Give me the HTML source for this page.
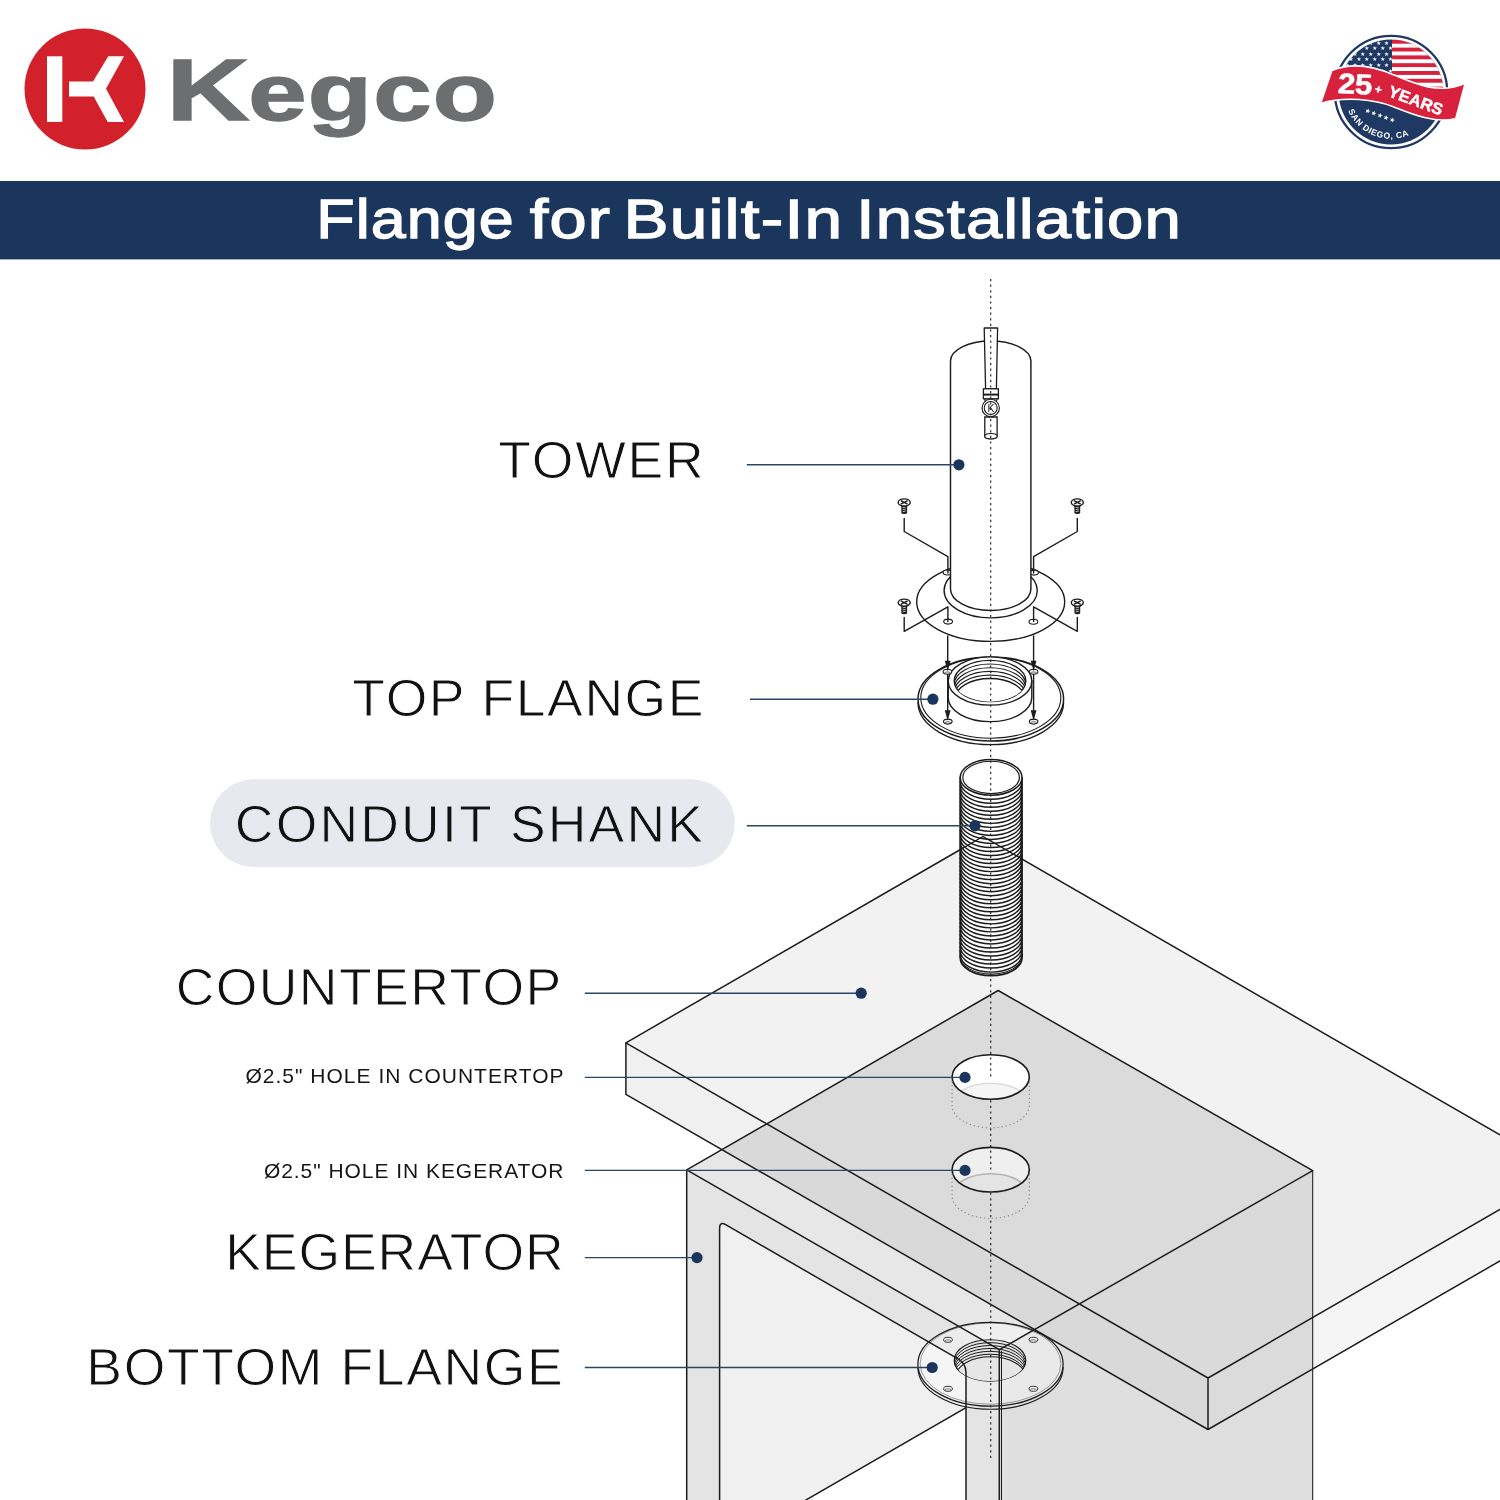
<!DOCTYPE html>
<html lang="en">
<head>
<meta charset="utf-8">
<title>Kegco - Flange for Built-In Installation</title>
<style>
html,body{margin:0;padding:0;background:#fff;}
body{width:1500px;height:1500px;overflow:hidden;font-family:"Liberation Sans",sans-serif;}
svg{display:block;will-change:transform;}
text{font-family:"Liberation Sans",sans-serif;}
.ln{fill:none;stroke:#1c1c1c;stroke-width:1.5;stroke-linejoin:round;stroke-linecap:round;}
.th{fill:none;stroke:#1c1c1c;stroke-width:1.1;stroke-linejoin:round;stroke-linecap:round;}
.ld{fill:none;stroke:#2b4566;stroke-width:1.4;}
.dot{fill:#1b365d;}
.lbl{fill:#111;stroke:#fff;stroke-width:0.9px;}
.sm{fill:#151515;}
</style>
</head>
<body>
<svg width="1500" height="1500" viewBox="0 0 1500 1500">
<rect x="0" y="0" width="1500" height="1500" fill="#fff"/>
<!-- logo -->
<g id="logo">
<circle cx="85" cy="89" r="60.5" fill="#d2212b"/>
<rect x="47" y="56.3" width="15.3" height="65.6" fill="#fff"/>
<path d="M69 81.4H93L108.3 56.3H124L106 88.8L124 121.9H107.7L93.7 96.6H69Z" fill="#fff"/>
<text transform="translate(166.4 120.4) scale(1.33 1)" font-weight="700" fill="#6d6e70" stroke="#6d6e70" stroke-width="1.3" stroke-linejoin="miter"><tspan font-size="86.5">K</tspan><tspan font-size="79" dx="-1.0" letter-spacing="0.9">egco</tspan></text>
</g>
<!-- title band -->
<rect x="0" y="181" width="1500" height="78.4" fill="#1b365d"/>
<g id="title">
<text transform="translate(316.22 237.7) scale(1.1251 1)" font-size="55.8" fill="#fff" stroke="#fff" stroke-width="1.35" letter-spacing="1.0">Flange</text>
<text transform="translate(529.73 237.7) scale(1.1949 1)" font-size="55.8" fill="#fff" stroke="#fff" stroke-width="1.35" letter-spacing="1.0">for</text>
<text transform="translate(623.44 237.7) scale(1.2098 1)" font-size="55.8" fill="#fff" stroke="#fff" stroke-width="1.35" letter-spacing="1.0">Built-In</text>
<text transform="translate(856.36 237.7) scale(1.1679 1)" font-size="55.8" fill="#fff" stroke="#fff" stroke-width="1.35" letter-spacing="1.0">Installation</text>
</g>
<!-- badge -->
<g id="badge">
<circle cx="1391.0" cy="92.0" r="56.2" fill="#fff" stroke="#1f3864" stroke-width="2.3"/>
<clipPath id="cpBadge"><circle cx="1391.0" cy="92.0" r="52.4"/></clipPath>
<g clip-path="url(#cpBadge)"><rect x="1335" y="36" width="112" height="112" fill="#1f3864"/><rect x="1392" y="36" width="60" height="70" fill="#fff"/><rect x="1392" y="39.8" width="60" height="3.9" fill="#d8213c"/><rect x="1392" y="47.6" width="60" height="3.9" fill="#d8213c"/><rect x="1392" y="55.4" width="60" height="3.9" fill="#d8213c"/><rect x="1392" y="63.2" width="60" height="3.9" fill="#d8213c"/><rect x="1392" y="71.0" width="60" height="3.9" fill="#d8213c"/><rect x="1392" y="78.8" width="60" height="3.9" fill="#d8213c"/><rect x="1392" y="86.6" width="60" height="3.9" fill="#d8213c"/><rect x="1392" y="94.4" width="60" height="3.9" fill="#d8213c"/><text x="1344.5" y="44.5" font-size="5.6" letter-spacing="2.9" fill="#fff" style="font-family:'DejaVu Sans','Liberation Sans',sans-serif">★★★★★★</text><text x="1348.5" y="50.1" font-size="5.6" letter-spacing="2.9" fill="#fff" style="font-family:'DejaVu Sans','Liberation Sans',sans-serif">★★★★★★</text><text x="1344.5" y="55.7" font-size="5.6" letter-spacing="2.9" fill="#fff" style="font-family:'DejaVu Sans','Liberation Sans',sans-serif">★★★★★★</text><text x="1348.5" y="61.3" font-size="5.6" letter-spacing="2.9" fill="#fff" style="font-family:'DejaVu Sans','Liberation Sans',sans-serif">★★★★★★</text><text x="1344.5" y="66.9" font-size="5.6" letter-spacing="2.9" fill="#fff" style="font-family:'DejaVu Sans','Liberation Sans',sans-serif">★★★★★★</text><text x="1348.5" y="72.5" font-size="5.6" letter-spacing="2.9" fill="#fff" style="font-family:'DejaVu Sans','Liberation Sans',sans-serif">★★★★★★</text></g>
<path id="sdArc" d="M1347.61 109.53A46.8 46.8 0 0 0 1426.85 122.08" fill="none"/>
<text font-size="8.6" font-weight="700" fill="#fff" letter-spacing="0.55"><textPath href="#sdArc" startOffset="1.5">SAN DIEGO, CA</textPath></text>
<text transform="translate(1364.2 112.0) rotate(20)" font-size="6.6" letter-spacing="0.6" fill="#fff" style="font-family:'DejaVu Sans','Liberation Sans',sans-serif">★★★★★</text>
<path d="M1331.8 70.5C1350 63 1372 65.5 1393.3 74.7S1440 95 1465.2 83.2L1455.8 118.4C1436 124 1412 114 1393.3 106.7S1345 96 1320.6 103.4Z" fill="#d8213c" stroke="#fff" stroke-width="1.6" stroke-linejoin="round"/>
<text transform="translate(1337.4 92.9) rotate(3) scale(1.1 1)" font-size="28.6" font-weight="700" fill="#fff" stroke="#fff" stroke-width="0.5" letter-spacing="-0.4">25</text>
<text transform="translate(1374.2 92.6) rotate(12)" font-size="11.5" font-weight="700" fill="#fff" stroke="#fff" stroke-width="0.5">+</text>
<text transform="translate(1387.2 96.0) rotate(20)" font-size="16.4" font-weight="700" fill="#fff" stroke="#fff" stroke-width="0.45" letter-spacing="0.1">YEARS</text>
</g>
<!-- countertop -->
<g id="countertop">
<polygon points="983.00,836.50 625.90,1042.80 1208.00,1378.00 1510.00,1203.64 1510.00,1140.76" fill="#f2f2f2"/>
<polygon points="625.90,1042.80 1208.00,1378.00 1208.00,1429.50 625.90,1094.30" fill="#f0f0f0"/>
<polygon points="1208.00,1378.00 1510.00,1203.64 1510.00,1255.14 1208.00,1429.50" fill="#f5f5f5"/>
</g>
<!-- kegerator -->
<g id="kegerator">
<polygon points="998.20,990.50 686.70,1169.90 999.30,1349.70 1312.70,1170.60" fill="#000" fill-opacity="0.095"/>
<polygon points="999.30,1349.70 1312.70,1170.60 1312.70,1510.00 999.30,1510.00" fill="#cbcbcb" fill-opacity="0.615"/>
<path d="M686.7 1169.9 L999.3 1349.7 V1510 H686.7 Z M719.6 1510 V1228.22 Q719.6 1221.22 725.66 1224.72 L958.00 1358.86 Q966.0 1363.48 966.0 1372.48 V1510 Z" fill="#000" fill-opacity="0.105" fill-rule="evenodd"/>
<clipPath id="cpInner"><path d="M719.6 1510 V1228.22 Q719.6 1221.22 725.66 1224.72 L958.00 1358.86 Q966.0 1363.48 966.0 1372.48 V1510 Z"/></clipPath>
<polygon clip-path="url(#cpInner)" points="714.60,1100.00 971.00,1100.00 971.00,1404.71 714.60,1552.75" fill="#000" fill-opacity="0.06"/>
</g>
<path class="ln" d="M1510 1140.76L983.0 836.5L625.9 1042.8L1208.0 1378.0L1510 1203.64M625.9 1042.8V1094.3L1208.0 1429.50L1510 1255.14M1208.0 1378.0V1429.5"/>
<!-- holes -->
<clipPath id="cpH1"><ellipse cx="990.7" cy="1077.0" rx="38.6" ry="22.29"/></clipPath>
<ellipse cx="990.70" cy="1077.00" rx="38.60" ry="22.29" fill="#ffffff"/>
<g clip-path="url(#cpH1)"><ellipse cx="990.70" cy="1105.50" rx="38.60" ry="22.29" fill="#f5f5f5" stroke="#dcdcdc" stroke-width="1.6"/></g>
<ellipse cx="990.70" cy="1077.00" rx="38.60" ry="22.29" fill="none" stroke="#1c1c1c" stroke-width="1.6"/>
<path d="M952.1 1081.0V1105.5A38.6 22.29 0 0 0 1029.3 1105.5V1081.0" fill="none" stroke="#8a8a8a" stroke-width="1.1" stroke-dasharray="1.3 2.7"/>
<clipPath id="cpH2"><ellipse cx="990.7" cy="1169.7" rx="38.6" ry="22.29"/></clipPath>
<ellipse cx="990.70" cy="1169.70" rx="38.60" ry="22.29" fill="#efefef"/>
<g clip-path="url(#cpH2)"><ellipse cx="990.70" cy="1196.00" rx="38.60" ry="22.29" fill="#e4e4e4" stroke="#b4b4b4" stroke-width="1.6"/></g>
<ellipse cx="990.70" cy="1169.70" rx="38.60" ry="22.29" fill="none" stroke="#1c1c1c" stroke-width="1.6"/>
<path d="M952.1 1173.7V1196.0A38.6 22.29 0 0 0 1029.3 1196.0V1173.7" fill="none" stroke="#8a8a8a" stroke-width="1.1" stroke-dasharray="1.3 2.7"/>
<!-- bottom flange -->
<g id="bottomflange">
<path class="th" d="M917.90 1367.40A72.60 41.92 0 0 0 1063.10 1367.40"/>
<ellipse cx="990.50" cy="1364.20" rx="72.60" ry="41.92" fill="#fff" fill-opacity="0.32" stroke="#1c1c1c" stroke-width="1.25"/>
<ellipse cx="990.50" cy="1363.60" rx="70.40" ry="40.65" fill="none" stroke="#1c1c1c" stroke-width="0.6" stroke-opacity="0.7"/>
<clipPath id="cpBF"><ellipse cx="990.0" cy="1360.4" rx="35.8" ry="20.67"/></clipPath>
<ellipse cx="990.00" cy="1360.40" rx="35.80" ry="20.67" fill="#000" fill-opacity="0.03" stroke="#1c1c1c" stroke-width="1.2"/>
<g clip-path="url(#cpBF)" class="th" style="stroke-width:1"><ellipse cx="990.00" cy="1363.30" rx="35.80" ry="20.67" fill="none"/><ellipse cx="990.00" cy="1366.20" rx="35.80" ry="20.67" fill="none"/><ellipse cx="990.00" cy="1369.10" rx="35.80" ry="20.67" fill="none"/><ellipse cx="990.00" cy="1372.00" rx="35.80" ry="20.67" fill="none"/><ellipse cx="990.00" cy="1374.90" rx="35.80" ry="20.67" fill="none"/></g>
<g clip-path="url(#cpBF)"><ellipse cx="990.50" cy="1376.90" rx="34.80" ry="20.09" fill="#e6e6e6" stroke="#1c1c1c" stroke-width="1.1"/></g>
<ellipse cx="948.00" cy="1339.80" rx="4.40" ry="2.50" fill="#f4f4f4" stroke="#1c1c1c" stroke-width="0.9"/>
<path d="M944.8 1340.8A3.6 1.8 0 0 1 951.2 1340.8" fill="none" stroke="#1c1c1c" stroke-width="0.6"/>
<ellipse cx="1033.40" cy="1339.80" rx="4.40" ry="2.50" fill="#f4f4f4" stroke="#1c1c1c" stroke-width="0.9"/>
<path d="M1030.2 1340.8A3.6 1.8 0 0 1 1036.6000000000001 1340.8" fill="none" stroke="#1c1c1c" stroke-width="0.6"/>
<ellipse cx="948.00" cy="1388.80" rx="4.40" ry="2.50" fill="#f4f4f4" stroke="#1c1c1c" stroke-width="0.9"/>
<path d="M944.8 1389.8A3.6 1.8 0 0 1 951.2 1389.8" fill="none" stroke="#1c1c1c" stroke-width="0.6"/>
<ellipse cx="1033.40" cy="1388.80" rx="4.40" ry="2.50" fill="#f4f4f4" stroke="#1c1c1c" stroke-width="0.9"/>
<path d="M1030.2 1389.8A3.6 1.8 0 0 1 1036.6000000000001 1389.8" fill="none" stroke="#1c1c1c" stroke-width="0.6"/>
</g>
<g id="kegerator-lines">
<path class="ln" d="M998.2 990.5L686.7 1169.9L999.3 1349.7L1312.7 1170.6Z M686.7 1169.9V1510 M999.3 1349.7V1510"/>
<path class="ln" d="M1312.7 1170.6V1510" style="stroke-width:1.05"/>
<path class="ln" d="M719.6 1510 V1228.22 Q719.6 1221.22 725.66 1224.72 L958.00 1358.86 Q966.0 1363.48 966.0 1372.48 V1510 Z"/>
<path class="ln" d="M1001.5 1351.2V1510" style="stroke-width:1"/>
<path class="ln" d="M966.0 1407.60L719.6 1549.86" clip-path="url(#cpInner)"/>
</g>
<!-- conduit shank -->
<g id="shank">
<path d="M960.2 777.4V957.86A30.90 17.84 0 0 0 1022.0 957.86V777.4Z" fill="#fff" fill-opacity="0.85"/>
<path class="th" style="stroke-width:1.45" d="M960.20 781.40A30.90 17.84 0 0 0 1022.00 781.40M960.20 785.42A30.90 17.84 0 0 0 1022.00 785.42M960.20 789.44A30.90 17.84 0 0 0 1022.00 789.44M960.20 793.46A30.90 17.84 0 0 0 1022.00 793.46M960.20 797.48A30.90 17.84 0 0 0 1022.00 797.48M960.20 801.50A30.90 17.84 0 0 0 1022.00 801.50M960.20 805.52A30.90 17.84 0 0 0 1022.00 805.52M960.20 809.54A30.90 17.84 0 0 0 1022.00 809.54M960.20 813.56A30.90 17.84 0 0 0 1022.00 813.56M960.20 817.58A30.90 17.84 0 0 0 1022.00 817.58M960.20 821.60A30.90 17.84 0 0 0 1022.00 821.60M960.20 825.62A30.90 17.84 0 0 0 1022.00 825.62M960.20 829.64A30.90 17.84 0 0 0 1022.00 829.64M960.20 833.66A30.90 17.84 0 0 0 1022.00 833.66M960.20 837.68A30.90 17.84 0 0 0 1022.00 837.68M960.20 841.70A30.90 17.84 0 0 0 1022.00 841.70M960.20 845.72A30.90 17.84 0 0 0 1022.00 845.72M960.20 849.74A30.90 17.84 0 0 0 1022.00 849.74M960.20 853.76A30.90 17.84 0 0 0 1022.00 853.76M960.20 857.78A30.90 17.84 0 0 0 1022.00 857.78M960.20 861.80A30.90 17.84 0 0 0 1022.00 861.80M960.20 865.82A30.90 17.84 0 0 0 1022.00 865.82M960.20 869.84A30.90 17.84 0 0 0 1022.00 869.84M960.20 873.86A30.90 17.84 0 0 0 1022.00 873.86M960.20 877.88A30.90 17.84 0 0 0 1022.00 877.88M960.20 881.90A30.90 17.84 0 0 0 1022.00 881.90M960.20 885.92A30.90 17.84 0 0 0 1022.00 885.92M960.20 889.94A30.90 17.84 0 0 0 1022.00 889.94M960.20 893.96A30.90 17.84 0 0 0 1022.00 893.96M960.20 897.98A30.90 17.84 0 0 0 1022.00 897.98M960.20 902.00A30.90 17.84 0 0 0 1022.00 902.00M960.20 906.02A30.90 17.84 0 0 0 1022.00 906.02M960.20 910.04A30.90 17.84 0 0 0 1022.00 910.04M960.20 914.06A30.90 17.84 0 0 0 1022.00 914.06M960.20 918.08A30.90 17.84 0 0 0 1022.00 918.08M960.20 922.10A30.90 17.84 0 0 0 1022.00 922.10M960.20 926.12A30.90 17.84 0 0 0 1022.00 926.12M960.20 930.14A30.90 17.84 0 0 0 1022.00 930.14M960.20 934.16A30.90 17.84 0 0 0 1022.00 934.16M960.20 938.18A30.90 17.84 0 0 0 1022.00 938.18M960.20 942.20A30.90 17.84 0 0 0 1022.00 942.20M960.20 946.22A30.90 17.84 0 0 0 1022.00 946.22M960.20 950.24A30.90 17.84 0 0 0 1022.00 950.24M960.20 954.26A30.90 17.84 0 0 0 1022.00 954.26"/>
<path class="ln" style="stroke-width:1.7" d="M960.2 777.4V957.86A30.90 17.84 0 0 0 1022.0 957.86V777.4"/>
<path class="th" d="M960.20 956.26A30.90 17.84 0 0 0 1022.00 956.26"/>
<ellipse cx="991.10" cy="777.40" rx="30.90" ry="17.84" fill="#fff" stroke="#1c1c1c" stroke-width="1.5"/>
<ellipse cx="991.10" cy="777.40" rx="28.30" ry="16.14" fill="#fff" stroke="#1c1c1c" stroke-width="1.2"/>
</g>
<path class="ln" d="M959.7 849.95L983.0 836.5L1022.5 859.31" style="stroke-width:1.3"/>
<!-- top flange -->
<g id="topflange">
<path class="ln" d="M918.00 702.60A72.80 42.03 0 0 0 1063.60 702.60" style="stroke-width:1.3"/>
<ellipse cx="990.80" cy="699.00" rx="72.80" ry="42.03" fill="#fff" stroke="#1c1c1c" stroke-width="1.5"/>
<ellipse cx="990.80" cy="697.80" rx="70.00" ry="40.41" fill="none" stroke="#1c1c1c" stroke-width="1.1"/>
<path d="M948.2 681.0V697.5A41.8 24.13 0 0 0 1031.8 697.5V681.0Z" fill="#fff" stroke="#1c1c1c" stroke-width="1.4"/>
<ellipse cx="990.00" cy="681.00" rx="41.80" ry="24.13" fill="#fff" stroke="#1c1c1c" stroke-width="1.4"/>
<clipPath id="cpTF"><ellipse cx="990.0" cy="681.0" rx="35.8" ry="20.67"/></clipPath>
<ellipse cx="990.00" cy="681.00" rx="35.80" ry="20.67" fill="#fff" stroke="#1c1c1c" stroke-width="1.4"/>
<g clip-path="url(#cpTF)" class="th" style="stroke-width:1.15"><ellipse cx="990.00" cy="684.70" rx="35.80" ry="20.67" fill="none"/><ellipse cx="990.00" cy="688.40" rx="35.80" ry="20.67" fill="none"/><ellipse cx="990.00" cy="692.10" rx="35.80" ry="20.67" fill="none"/><ellipse cx="990.00" cy="695.80" rx="35.80" ry="20.67" fill="none"/><ellipse cx="990.00" cy="698.60" rx="34.80" ry="20.09" fill="#fff" stroke-width="1.4"/></g>
<ellipse cx="947.40" cy="671.80" rx="4.30" ry="2.50" fill="#fff" stroke="#1c1c1c" stroke-width="1.1"/>
<path d="M944.4 672.9A3.4 1.8 0 0 1 950.4 672.9" fill="none" stroke="#1c1c1c" stroke-width="0.7"/>
<ellipse cx="1033.60" cy="671.80" rx="4.30" ry="2.50" fill="#fff" stroke="#1c1c1c" stroke-width="1.1"/>
<path d="M1030.6 672.9A3.4 1.8 0 0 1 1036.6 672.9" fill="none" stroke="#1c1c1c" stroke-width="0.7"/>
<ellipse cx="947.80" cy="721.60" rx="4.30" ry="2.50" fill="#fff" stroke="#1c1c1c" stroke-width="1.1"/>
<path d="M944.8 722.7A3.4 1.8 0 0 1 950.8 722.7" fill="none" stroke="#1c1c1c" stroke-width="0.7"/>
<ellipse cx="1033.60" cy="721.60" rx="4.30" ry="2.50" fill="#fff" stroke="#1c1c1c" stroke-width="1.1"/>
<path d="M1030.6 722.7A3.4 1.8 0 0 1 1036.6 722.7" fill="none" stroke="#1c1c1c" stroke-width="0.7"/>
</g>
<!-- tower -->
<g id="tower">
<ellipse cx="990.70" cy="601.80" rx="74.00" ry="39.60" fill="#fff" stroke="#1c1c1c" stroke-width="1.4"/>
<ellipse cx="990.70" cy="590.60" rx="46.60" ry="27.30" fill="#fff" stroke="#1c1c1c" stroke-width="1.4"/>
<ellipse cx="947.50" cy="572.50" rx="4.40" ry="2.50" fill="#fff" stroke="#1c1c1c" stroke-width="1.1"/>
<ellipse cx="1034.00" cy="572.60" rx="4.40" ry="2.50" fill="#fff" stroke="#1c1c1c" stroke-width="1.1"/>
<ellipse cx="948.10" cy="621.60" rx="4.40" ry="2.50" fill="#fff" stroke="#1c1c1c" stroke-width="1.1"/>
<ellipse cx="1033.40" cy="621.80" rx="4.40" ry="2.50" fill="#fff" stroke="#1c1c1c" stroke-width="1.1"/>
<path d="M950.5 589.0V361A40.20 20 0 0 1 1030.9 361V589.0A40.20 21.5 0 0 1 950.5 589.0Z" fill="#fff" stroke="#1c1c1c" stroke-width="1.45" stroke-linejoin="round"/>
<path d="M984.2 328H997.6L996.4 388.8H985.6Z" fill="#fff" stroke="#1c1c1c" stroke-width="1.3" stroke-linejoin="round"/>
<path d="M984.8 417V436.2A6.2 2.7 0 0 0 997.1 436.2V417Z" fill="#fff" stroke="#1c1c1c" stroke-width="1.3"/>
<ellipse cx="990.95" cy="436.20" rx="6.15" ry="2.70" fill="#fff" stroke="#1c1c1c" stroke-width="1.2"/>
<path d="M984.6 398.8L985.4 402H996.2L997 398.8Z" fill="#fff" stroke="#1c1c1c" stroke-width="1.1"/>
<rect x="983.4" y="388.8" width="15" height="10" fill="#fff" stroke="#1c1c1c" stroke-width="1.3"/>
<path d="M983.4 394.6H998.4" stroke="#1c1c1c" stroke-width="2" fill="none"/>
<circle cx="990.7" cy="408" r="8.7" fill="#fff" stroke="#1c1c1c" stroke-width="1.1"/>
<circle cx="990.7" cy="408" r="6.5" fill="#fff" stroke="#1c1c1c" stroke-width="1.1"/>
<text transform="translate(990.9 411.7) scale(1.04 1)" font-size="10" text-anchor="middle" fill="#1c1c1c" font-weight="400">K</text>
</g>
<!-- screws -->
<g transform="translate(904.2 502.4)"><path d="M-2.9 3.2V10.4A2.9 1.3 0 0 0 2.9 10.4V3.2Z" fill="#1c1c1c"/><path d="M-1.6 5.3L1.6 4.6M-1.6 7.3L1.6 6.6M-1.6 9.3L1.6 8.6" stroke="#fff" stroke-width="0.7" fill="none"/><path d="M-5.8 0.2L-2.9 3.6H2.9L5.8 0.2Z" fill="#fff" stroke="#1c1c1c" stroke-width="1.1" stroke-linejoin="round"/><ellipse cx="0" cy="0" rx="6" ry="3.5" fill="#fff" stroke="#1c1c1c" stroke-width="1.4"/><path d="M-3.4 -1.7L3.4 1.7M3.4 -1.7L-3.4 1.7" stroke="#1c1c1c" stroke-width="1.5" fill="none"/></g>
<g transform="translate(1077.3 502.4)"><path d="M-2.9 3.2V10.4A2.9 1.3 0 0 0 2.9 10.4V3.2Z" fill="#1c1c1c"/><path d="M-1.6 5.3L1.6 4.6M-1.6 7.3L1.6 6.6M-1.6 9.3L1.6 8.6" stroke="#fff" stroke-width="0.7" fill="none"/><path d="M-5.8 0.2L-2.9 3.6H2.9L5.8 0.2Z" fill="#fff" stroke="#1c1c1c" stroke-width="1.1" stroke-linejoin="round"/><ellipse cx="0" cy="0" rx="6" ry="3.5" fill="#fff" stroke="#1c1c1c" stroke-width="1.4"/><path d="M-3.4 -1.7L3.4 1.7M3.4 -1.7L-3.4 1.7" stroke="#1c1c1c" stroke-width="1.5" fill="none"/></g>
<g transform="translate(904.2 602.6)"><path d="M-2.9 3.2V10.4A2.9 1.3 0 0 0 2.9 10.4V3.2Z" fill="#1c1c1c"/><path d="M-1.6 5.3L1.6 4.6M-1.6 7.3L1.6 6.6M-1.6 9.3L1.6 8.6" stroke="#fff" stroke-width="0.7" fill="none"/><path d="M-5.8 0.2L-2.9 3.6H2.9L5.8 0.2Z" fill="#fff" stroke="#1c1c1c" stroke-width="1.1" stroke-linejoin="round"/><ellipse cx="0" cy="0" rx="6" ry="3.5" fill="#fff" stroke="#1c1c1c" stroke-width="1.4"/><path d="M-3.4 -1.7L3.4 1.7M3.4 -1.7L-3.4 1.7" stroke="#1c1c1c" stroke-width="1.5" fill="none"/></g>
<g transform="translate(1077.3 602.6)"><path d="M-2.9 3.2V10.4A2.9 1.3 0 0 0 2.9 10.4V3.2Z" fill="#1c1c1c"/><path d="M-1.6 5.3L1.6 4.6M-1.6 7.3L1.6 6.6M-1.6 9.3L1.6 8.6" stroke="#fff" stroke-width="0.7" fill="none"/><path d="M-5.8 0.2L-2.9 3.6H2.9L5.8 0.2Z" fill="#fff" stroke="#1c1c1c" stroke-width="1.1" stroke-linejoin="round"/><ellipse cx="0" cy="0" rx="6" ry="3.5" fill="#fff" stroke="#1c1c1c" stroke-width="1.4"/><path d="M-3.4 -1.7L3.4 1.7M3.4 -1.7L-3.4 1.7" stroke="#1c1c1c" stroke-width="1.5" fill="none"/></g>
<path class="ln" d="M904.2 518.5V531.5L947.9 556.7V573M1077.3 518.5V531.5L1033.6 556.7V573M904.2 617.5V631.3L947.9 606.8V621.5M1077.3 617.5V631.3L1033.6 606.8V621.5M947.7 636V664M1033.6 636V664M947.7 674.5V713M1033.6 674.5V713" style="stroke-width:1.4"/>
<path d="M947.7 671.3L944.8000000000001 660.8H950.6Z" fill="#1c1c1c"/>
<path d="M947.7 720.8L944.8000000000001 710.3H950.6Z" fill="#1c1c1c"/>
<path d="M1033.6 671.3L1030.6999999999998 660.8H1036.5Z" fill="#1c1c1c"/>
<path d="M1033.6 720.8L1030.6999999999998 710.3H1036.5Z" fill="#1c1c1c"/>
<path d="M990.7 279V1077.5M990.7 1100.2V1170M990.7 1192.6V1459" fill="none" stroke="#222" stroke-width="1.15" stroke-dasharray="2.2 3.4"/>
<!-- labels -->
<rect x="210" y="779.2" width="524.8" height="88" rx="44" ry="44" fill="#e7e9ef"/>
<text transform="translate(498.35 477.60) scale(1.05 1)" font-size="51" letter-spacing="1.680" class="lbl">TOWER</text>
<text transform="translate(352.35 716.40) scale(1.05 1)" font-size="51" letter-spacing="1.474" class="lbl">TOP FLANGE</text>
<text transform="translate(175.63 1004.70) scale(1.05 1)" font-size="51" letter-spacing="1.347" class="lbl">COUNTERTOP</text>
<text transform="translate(225.16 1270.40) scale(1.05 1)" font-size="51" letter-spacing="0.867" class="lbl">KEGERATOR</text>
<text transform="translate(86.36 1385.00) scale(1.05 1)" font-size="51" letter-spacing="1.522" class="lbl">BOTTOM FLANGE</text>
<text transform="translate(234.83 841.60) scale(1.05 1)" font-size="51" letter-spacing="2.054" class="lbl" style="stroke:#e7e9ef">CONDUIT SHANK</text>
<text transform="translate(245.42 1082.90) scale(1.05 1)" font-size="20" letter-spacing="0.966" class="sm">Ø2.5" HOLE IN COUNTERTOP</text>
<text transform="translate(263.92 1177.90) scale(1.05 1)" font-size="20" letter-spacing="0.910" class="sm">Ø2.5" HOLE IN KEGERATOR</text>
<path class="ld" d="M746.8 464.8H958.9"/><circle class="dot" cx="958.9" cy="464.8" r="5.6"/>
<path class="ld" d="M750.0 699.2H932.9"/><circle class="dot" cx="932.9" cy="699.2" r="5.6"/>
<path class="ld" d="M746.8 825.8H975.0"/><circle class="dot" cx="975.0" cy="825.8" r="5.6"/>
<path class="ld" d="M584.8 993.2H861.2"/><circle class="dot" cx="861.2" cy="993.2" r="5.6"/>
<path class="ld" d="M584.8 1077.4H965.0"/><circle class="dot" cx="965.0" cy="1077.4" r="5.6"/>
<path class="ld" d="M584.8 1170.4H965.0"/><circle class="dot" cx="965.0" cy="1170.4" r="5.6"/>
<path class="ld" d="M584.8 1257.6H697.0"/><circle class="dot" cx="697.0" cy="1257.6" r="5.6"/>
<path class="ld" d="M584.8 1367.5H932.2"/><circle class="dot" cx="932.2" cy="1367.5" r="5.6"/>
</svg>
</body>
</html>
